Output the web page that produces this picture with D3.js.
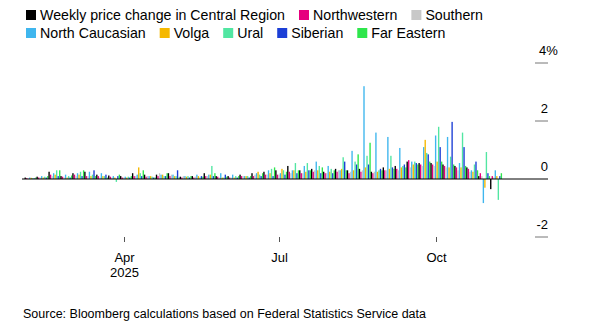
<!DOCTYPE html>
<html>
<head>
<meta charset="utf-8">
<script src="https://cdn.jsdelivr.net/npm/d3@7"></script>
<style>
  body { margin: 0; background: #fff; }
  svg { display: block; font-family: "Liberation Sans", Arial, sans-serif; }
</style>
</head>
<body>
<svg id="chart" width="595" height="332"></svg>
<script>
// weekly fuel price change by federal district, %
var weeks = ["2025-02-05","2025-02-12","2025-02-19","2025-02-26","2025-03-05","2025-03-12","2025-03-19","2025-03-26",
  "2025-04-02","2025-04-09","2025-04-16","2025-04-23","2025-04-30","2025-05-07","2025-05-14","2025-05-21",
  "2025-05-28","2025-06-04","2025-06-11","2025-06-18","2025-06-25","2025-07-02","2025-07-09","2025-07-16",
  "2025-07-23","2025-07-30","2025-08-06","2025-08-13","2025-08-20","2025-08-27","2025-09-03","2025-09-10",
  "2025-09-17","2025-09-24","2025-10-01","2025-10-08","2025-10-15","2025-10-22","2025-10-29","2025-11-05"];

var regions = ["Weekly price change in Central Region", "Northwestern", "Southern", "North Caucasian",
  "Volga", "Ural", "Siberian", "Far Eastern"];
var colors = ["#000000", "#e6007e", "#c8c8c8", "#3fb6ee", "#f5b800", "#52e6a2", "#1c3fd6", "#2ee64c"];

var central      = [0.05,0.08,0.25,0.10,0.20,0.25,0.15,0.12,0.10,0.20,0.15,0.15,0.20,0.08,0.10,0.20,0.10,0.10,0.15,0.20,0.25,0.30,0.45,0.30,0.35,0.25,0.35,0.30,0.35,0.25,0.40,0.45,0.60,0.55,0.55,0.50,0.45,0.40,0.10,-0.35];
var northwestern = [0.03,0.05,0.15,0.08,0.15,0.10,0.10,0.08,0.05,0.10,0.08,0.10,0.10,0.05,0.05,0.10,0.08,0.05,0.10,0.10,0.15,0.15,0.25,0.20,0.25,0.20,0.25,0.20,0.25,0.20,0.30,0.35,0.65,0.50,0.50,0.45,0.40,0.35,0.20,0.10];
var southern     = [0.02,0.05,0.10,0.05,0.10,0.10,0.05,0.05,0.05,0.10,0.10,0.20,0.15,0.10,0.08,0.10,0.05,0.05,0.10,0.15,0.15,0.15,0.20,0.20,0.30,0.20,0.30,0.25,0.30,0.25,0.30,0.30,0.40,0.45,0.45,0.40,0.30,0.25,0.10,0.05];
var northCauc    = [0.05,0.10,0.20,0.15,0.20,0.25,0.20,0.10,0.08,0.15,0.10,0.15,0.15,0.10,0.15,0.15,0.20,0.15,0.10,0.20,0.30,0.20,0.30,0.45,0.60,0.45,0.30,0.97,3.20,1.60,1.45,1.07,0.60,1.10,1.50,1.45,0.55,0.30,-0.83,0.30];
var volga        = [0.04,0.05,0.15,0.05,0.15,0.10,0.10,0.05,0.05,0.40,0.10,0.15,0.10,0.08,0.10,0.15,0.05,0.05,0.10,0.25,0.20,0.35,0.30,0.25,0.30,0.25,0.35,0.30,0.40,0.25,0.35,0.40,0.50,1.35,0.60,0.40,0.40,0.25,-0.30,0.10];
var ural         = [0.03,0.08,0.30,0.10,0.25,0.15,0.10,-0.10,0.08,0.20,0.08,0.10,0.10,0.10,0.05,0.45,0.05,0.10,0.10,0.15,0.35,0.30,0.55,0.55,0.45,0.35,0.75,0.60,0.80,0.30,0.80,0.45,0.60,0.90,1.80,0.77,1.60,0.50,0.93,-0.72];
var siberian     = [0.02,0.05,0.10,0.05,0.10,0.30,0.15,0.10,0.05,0.10,0.05,0.10,0.30,0.05,0.10,0.10,0.15,0.05,0.05,0.10,0.10,0.15,0.20,0.30,0.20,0.20,0.60,0.50,0.50,0.35,0.40,0.50,0.55,0.85,1.10,1.97,1.10,0.60,0.20,0.10];
var farEastern   = [0.05,0.10,0.30,0.12,0.30,0.10,0.05,0.15,0.10,0.30,0.05,0.20,0.05,0.10,0.08,0.20,0.08,0.10,0.10,0.20,0.40,0.25,0.30,0.30,0.40,0.30,0.30,0.85,1.25,0.30,0.35,0.40,0.50,0.60,0.60,0.50,0.45,0.30,0.10,0.20];

var series = [central, northwestern, southern, northCauc, volga, ural, siberian, farEastern];

var yTicks = [4, 2, 0, -2];
var xTicks = ["2025-04-01", "2025-07-01", "2025-10-01"];
var xTickLabels = [["Apr", "2025"], ["Jul"], ["Oct"]];

var parse = d3.timeParse("%Y-%m-%d");
var svg = d3.select("#chart");

// legend, two rows like the original
var legendRows = [[0, 1, 2], [3, 4, 5, 6, 7]];
legendRows.forEach(function(row, r) {
  var x = 26;
  row.forEach(function(i) {
    var g = svg.append("g").attr("transform", "translate(" + x + "," + (r * 18) + ")");
    g.append("rect").attr("x", 0).attr("y", 10).attr("width", 10).attr("height", 10).attr("fill", colors[i]);
    var t = g.append("text").attr("x", 14).attr("y", 20).attr("font-size", 14.2).attr("fill", "#000").text(regions[i]);
    x += 14 + t.node().getComputedTextLength() + 14;
  });
});

var x = d3.scaleTime()
  .domain([parse("2025-01-31"), parse("2025-11-12")])
  .range([22, 508]);
var y = d3.scaleLinear().domain([-2, 4]).range([237, 63]);

var inner = d3.scaleBand().domain(d3.range(series.length)).range([-6, 6]).paddingInner(0.1);

var plot = svg.append("g");
weeks.forEach(function(w, wi) {
  var cx = x(parse(w));
  series.forEach(function(s, si) {
    var v = s[wi];
    plot.append("rect")
      .attr("x", cx + inner(si))
      .attr("width", inner.bandwidth())
      .attr("y", y(Math.max(0, v)))
      .attr("height", Math.abs(y(v) - y(0)))
      .attr("fill", colors[si]);
  });
});

// y axis on the right: tick line with the label sitting above it
var yAx = svg.append("g");
yTicks.forEach(function(t) {
  if (t !== 0) {
    yAx.append("line").attr("x1", 535).attr("x2", 548).attr("y1", y(t)).attr("y2", y(t))
      .attr("stroke", "#777").attr("stroke-width", 1);
  }
  var lab = yAx.append("text").attr("y", y(t) - 8).attr("font-size", 13).attr("fill", "#000");
  if (t === 4) {
    // % sign hangs past the numbers
    lab.attr("x", 539).attr("text-anchor", "start").text("4%");
  } else {
    lab.attr("x", 548).attr("text-anchor", "end").text(t);
  }
});

// zero line
svg.append("line").attr("x1", 22).attr("x2", 548).attr("y1", y(0)).attr("y2", y(0))
  .attr("stroke", "#000").attr("stroke-width", 1);

// x axis ticks
var xAx = svg.append("g");
xTicks.forEach(function(t, i) {
  var px = Math.round(x(parse(t))) + 0.5;
  xAx.append("line").attr("x1", px).attr("x2", px).attr("y1", 237).attr("y2", 242)
    .attr("stroke", "#555").attr("stroke-width", 1);
  xTickLabels[i].forEach(function(lab, k) {
    xAx.append("text").attr("x", px).attr("y", 262 + k * 15).attr("text-anchor", "middle")
      .attr("font-size", 13).attr("fill", "#000").text(lab);
  });
});

svg.append("text").attr("x", 23).attr("y", 318).attr("font-size", 12.5).attr("fill", "#000")
  .text("Source: Bloomberg calculations based on Federal Statistics Service data");
</script>
</body>
</html>
